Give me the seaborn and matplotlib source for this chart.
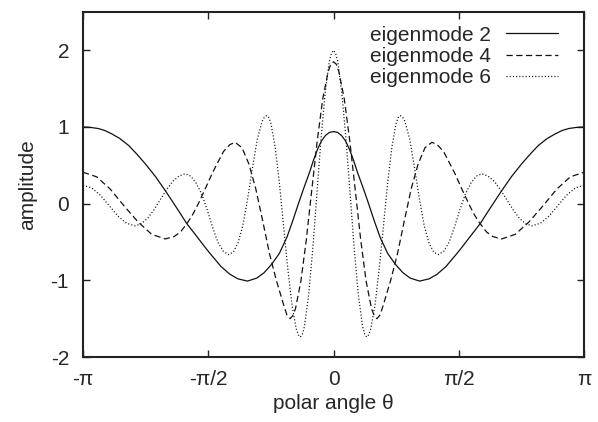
import numpy as np
import matplotlib
matplotlib.use("Agg")
import matplotlib.pyplot as plt
import seaborn as sns

# values (theta in radians)
theta_2 = [-3.1416, -3.05, -2.95, -2.87, -2.78, -2.68, -2.57, -2.47, -2.36, -2.23,
           -2.11, -1.97, -1.84, -1.72, -1.61, -1.524, -1.41, -1.3, -1.2, -1.08,
           -0.96, -0.87, -0.775, -0.68, -0.585, -0.51, -0.44, -0.37, -0.3, -0.25,
           -0.2, -0.15, -0.1, -0.05, 0.0,
           0.05, 0.1, 0.15, 0.2, 0.25, 0.3, 0.37, 0.44, 0.51, 0.585,
           0.68, 0.775, 0.87, 0.96, 1.08, 1.2, 1.3, 1.41, 1.524, 1.61,
           1.72, 1.84, 1.97, 2.11, 2.23, 2.36, 2.47, 2.57, 2.68, 2.78,
           2.87, 2.95, 3.05, 3.1416]
mode_2 = [1.0, 0.995, 0.98, 0.955, 0.91, 0.85, 0.76, 0.65, 0.52, 0.35,
          0.17, -0.05, -0.26, -0.42, -0.57, -0.68, -0.82, -0.92, -0.98, -1.01,
          -0.97, -0.90, -0.79, -0.65, -0.44, -0.22, 0.0, 0.21, 0.41, 0.57,
          0.71, 0.82, 0.89, 0.93, 0.94,
          0.93, 0.89, 0.82, 0.71, 0.57, 0.41, 0.21, 0.0, -0.22, -0.44,
          -0.65, -0.79, -0.90, -0.97, -1.01, -0.98, -0.92, -0.82, -0.68, -0.57,
          -0.42, -0.26, -0.05, 0.17, 0.35, 0.52, 0.65, 0.76, 0.85, 0.91,
          0.955, 0.98, 0.995, 1.0]

theta_4 = [-3.1416, -2.97, -2.80, -2.63, -2.45, -2.28, -2.11, -2.0, -1.92, -1.838,
           -1.77, -1.70, -1.61, -1.524, -1.45, -1.38, -1.30, -1.234, -1.148, -1.062,
           -0.976, -0.889, -0.803, -0.717, -0.631, -0.585, -0.545, -0.51, -0.477, -0.409,
           -0.341, -0.273, -0.204, -0.136, -0.068, -0.034, 0.0,
           0.034, 0.068, 0.136, 0.204, 0.273, 0.341, 0.409, 0.477, 0.51, 0.545,
           0.585, 0.631, 0.717, 0.803, 0.889, 0.976, 1.062, 1.148, 1.234, 1.30,
           1.38, 1.45, 1.524, 1.61, 1.70, 1.77, 1.838, 1.92, 2.0, 2.11,
           2.28, 2.45, 2.63, 2.80, 2.97, 3.1416]
mode_4 = [0.41, 0.35, 0.19, -0.025, -0.24, -0.40, -0.46, -0.43, -0.37, -0.26,
          -0.15, -0.01, 0.19, 0.39, 0.54, 0.68, 0.77, 0.80, 0.73, 0.52,
          0.20, -0.22, -0.65, -1.00, -1.30, -1.45, -1.50, -1.46, -1.37, -1.01,
          -0.47, 0.175, 0.82, 1.36, 1.72, 1.82, 1.85,
          1.82, 1.72, 1.36, 0.82, 0.175, -0.47, -1.01, -1.37, -1.46, -1.50,
          -1.45, -1.30, -1.00, -0.65, -0.22, 0.20, 0.52, 0.73, 0.80, 0.77,
          0.68, 0.54, 0.39, 0.19, -0.01, -0.15, -0.26, -0.37, -0.43, -0.46,
          -0.40, -0.24, -0.025, 0.19, 0.35, 0.41]

theta_6 = [-3.1416, -3.032, -2.923, -2.814, -2.705, -2.596, -2.487, -2.409, -2.33, -2.252,
           -2.174, -2.095, -2.017, -1.938, -1.86, -1.792, -1.724, -1.655, -1.587, -1.519,
           -1.451, -1.383, -1.315, -1.256, -1.196, -1.136, -1.076, -1.016, -0.956, -0.896,
           -0.866, -0.836, -0.81, -0.783, -0.731, -0.678, -0.626, -0.573, -0.521, -0.468,
           -0.442, -0.416, -0.39, -0.364, -0.312, -0.260, -0.208, -0.156, -0.104, -0.052,
           -0.026, 0.0,
           0.026, 0.052, 0.104, 0.156, 0.208, 0.260, 0.312, 0.364, 0.39, 0.416,
           0.442, 0.468, 0.521, 0.573, 0.626, 0.678, 0.731, 0.783, 0.81, 0.836,
           0.866, 0.896, 0.956, 1.016, 1.076, 1.136, 1.196, 1.256, 1.315, 1.383,
           1.451, 1.519, 1.587, 1.655, 1.724, 1.792, 1.86, 1.938, 2.017, 2.095,
           2.174, 2.252, 2.33, 2.409, 2.487, 2.596, 2.705, 2.814, 2.923, 3.032,
           3.1416]
mode_6 = [0.24, 0.205, 0.11, -0.025, -0.16, -0.255, -0.29, -0.26, -0.19, -0.08,
          0.05, 0.18, 0.29, 0.36, 0.39, 0.36, 0.27, 0.13, -0.07, -0.30,
          -0.50, -0.62, -0.665, -0.63, -0.51, -0.28, 0.07, 0.47, 0.84, 1.07,
          1.13, 1.15, 1.12, 1.04, 0.73, 0.26, -0.295, -0.85, -1.32, -1.63,
          -1.71, -1.74, -1.70, -1.60, -1.19, -0.59, 0.13, 0.85, 1.45, 1.86,
          1.96, 2.0,
          1.96, 1.86, 1.45, 0.85, 0.13, -0.59, -1.19, -1.60, -1.70, -1.74,
          -1.71, -1.63, -1.32, -0.85, -0.295, 0.26, 0.73, 1.04, 1.12, 1.15,
          1.13, 1.07, 0.84, 0.47, 0.07, -0.28, -0.51, -0.63, -0.665, -0.62,
          -0.50, -0.30, -0.07, 0.13, 0.27, 0.36, 0.39, 0.36, 0.29, 0.18,
          0.05, -0.08, -0.19, -0.26, -0.29, -0.255, -0.16, -0.025, 0.11, 0.205,
          0.24]

labels = ["eigenmode 2", "eigenmode 4", "eigenmode 6"]
xtick_vals = [-np.pi, -np.pi / 2, 0, np.pi / 2, np.pi]
xtick_labels = ["-\u03c0", "-\u03c0/2", "0", "\u03c0/2", "\u03c0"]
ytick_vals = [-2, -1, 0, 1, 2]
ytick_labels = ["-2", "-1", "0", "1", "2"]

sns.set_style("ticks")
plt.rcParams["font.family"] = ["Liberation Sans", "DejaVu Sans"]
plt.rcParams["font.size"] = 15
plt.rcParams["lines.scale_dashes"] = False

fig = plt.figure(figsize=(5.98, 4.22), dpi=100)
ax = fig.add_axes([0.1388, 0.154, 0.8378, 0.8176])

styles = ["-", (0, (4.5, 2.5)), (0, (0.8, 1.5))]
for th, vals, lab, ls in zip([theta_2, theta_4, theta_6], [mode_2, mode_4, mode_6],
                             labels, styles):
    sns.lineplot(x=th, y=vals, ax=ax, color="#111111", lw=0.9, linestyle=ls,
                 label=lab, estimator=None, sort=False)

ax.set_xlim(-np.pi, np.pi)
ax.set_ylim(-2, 2.5)
ax.set_xticks(xtick_vals)
ax.set_xticklabels(xtick_labels)
ax.set_yticks(ytick_vals)
ax.set_yticklabels(ytick_labels)
ax.tick_params(direction="in", length=5, width=1, top=True, right=True,
               labelsize=15, color="#222222")
ax.tick_params(axis="x", pad=9)
ax.tick_params(axis="y", pad=10)
for sp in ax.spines.values():
    sp.set_linewidth(1.5)
    sp.set_color("#222222")

ax.set_xlabel("polar angle \u03b8", fontsize=15, labelpad=4)
ax.set_ylabel("amplitude", fontsize=15, labelpad=10)

ax.legend(loc="upper right", bbox_to_anchor=(0.948, 0.96), frameon=False,
          markerfirst=False, handlelength=2.5, handletextpad=0.7,
          labelspacing=0.1, borderpad=0, borderaxespad=0, fontsize=15)

fig.savefig("out.png", dpi=100)
